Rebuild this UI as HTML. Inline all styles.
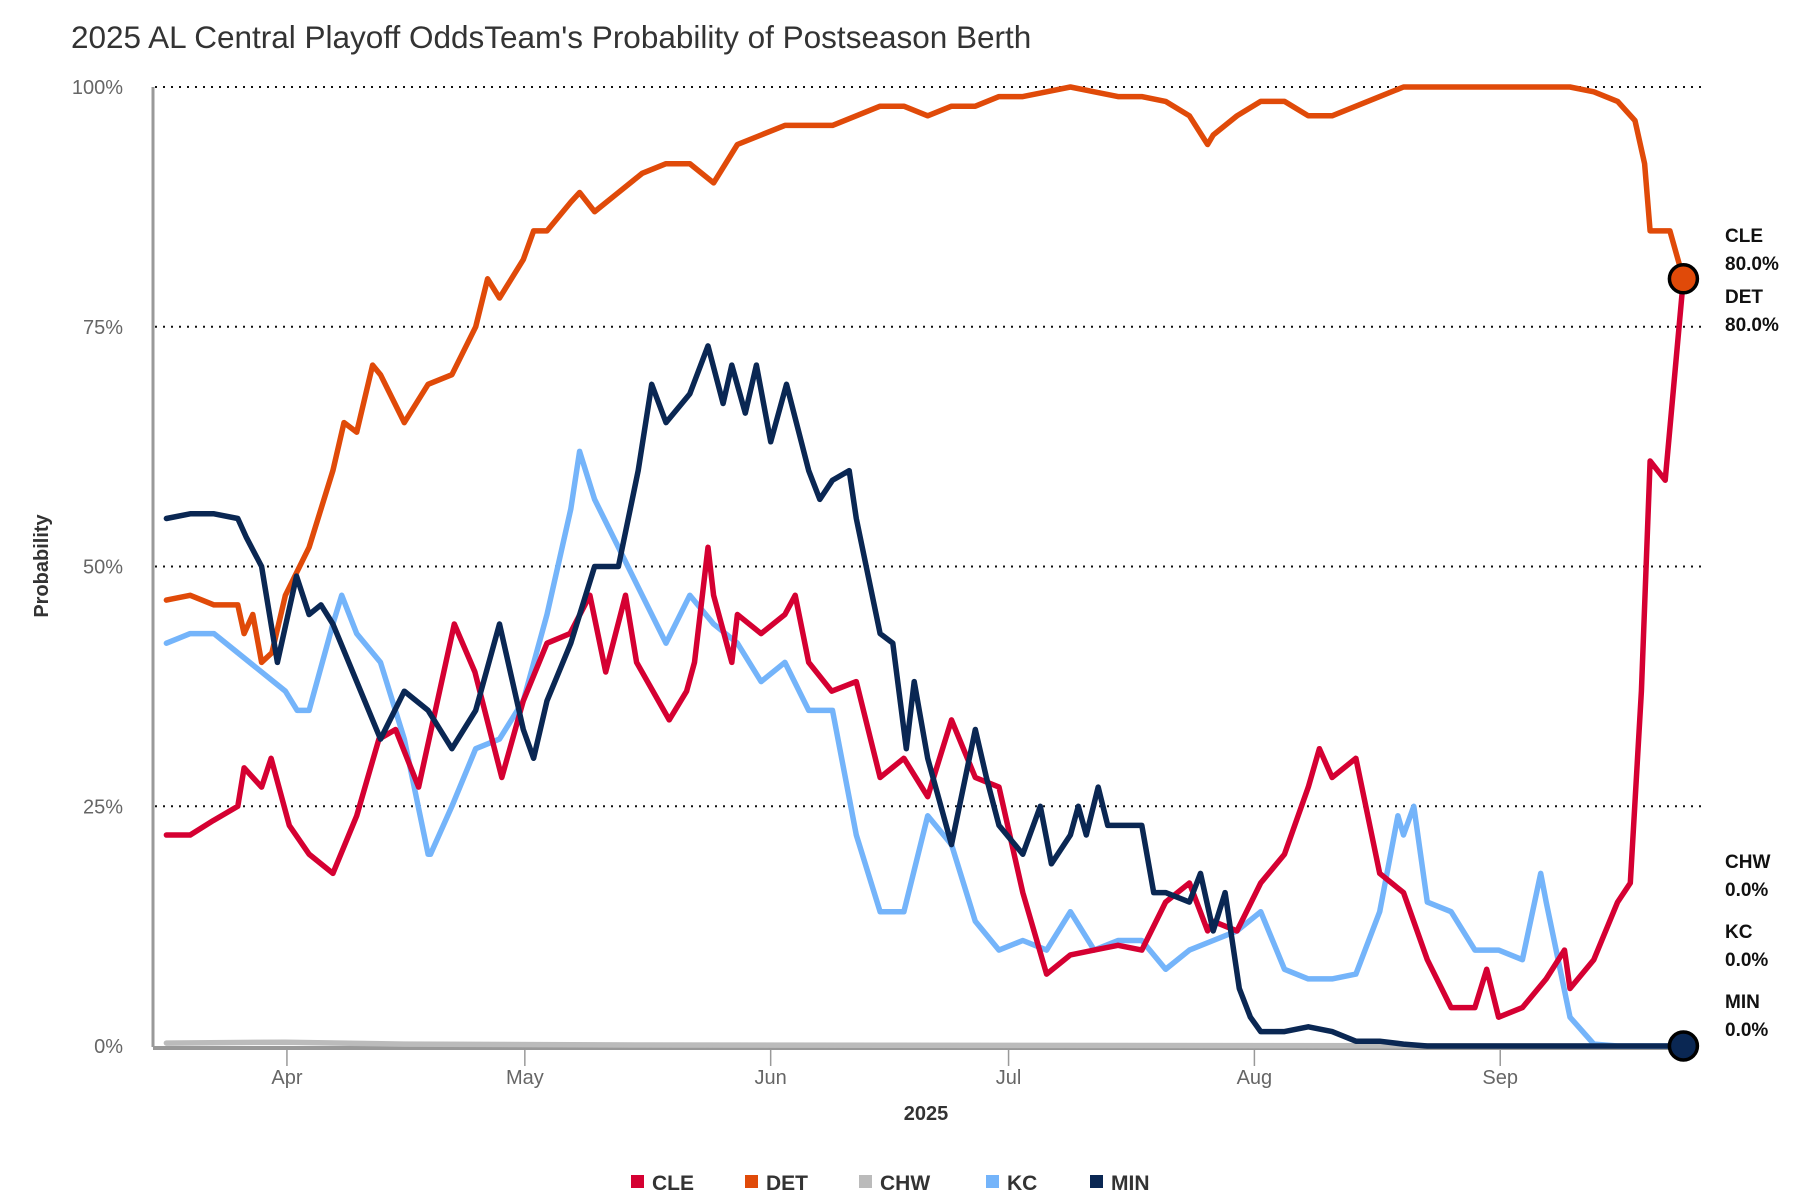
<!DOCTYPE html>
<html><head><meta charset="utf-8"><style>
html,body{margin:0;padding:0;background:#fff;}
svg{display:block;font-family:"Liberation Sans",sans-serif;}
</style></head><body>
<svg id="chart" width="1800" height="1200" viewBox="0 0 1800 1200">
<text x="71" y="48" font-size="31.5" fill="#333">2025 AL Central Playoff OddsTeam's Probability of Postseason Berth</text>
<g id="grid"></g>
<g id="yticks"></g>
<g id="xticks"></g>
<line x1="153" y1="87" x2="153" y2="1047" stroke="#999" stroke-width="3"/>
<text transform="translate(48,566) rotate(-90)" text-anchor="middle" font-size="20" font-weight="bold" fill="#333">Probability</text>
<text x="926" y="1120" text-anchor="middle" font-size="20" font-weight="bold" fill="#333">2025</text>
<g id="series"></g>
<g id="labels"></g>
<g id="legend"></g>
</svg>
<script>
const yTickValues=[0,25,50,75,100];
const yTickLabels=["0%","25%","50%","75%","100%"];
const monthLabels=["Apr","May","Jun","Jul","Aug","Sep"];
const monthDays=[15.2,45.2,76.2,106.2,137.2,168.2];
const teams=["CLE","DET","CHW","KC","MIN"];
const teamColors=["#d50032","#e04a09","#bbbbbb","#74b4fa","#0a2753"];

const detDays=[0,3,6,9,9.8,10.9,12,13.3,15,18,21,22.4,24,26,27,30,33,36,39,40.5,42,45,46.3,48,51,52.1,54,57,60,63,66,69,72,75,78,81,84,87,90,93,96,99,102,105,108,111,114,117,120,123,126,129,131.3,132,135,138,141,144,147,150,153,156,160,165,170,177,180,183,185.2,186.4,187.1,189.6,191.3];
const detVals=[46.5,47,46,46,43,45,40,41,47,52,60,65,64,71,70,65,69,70,75,80,78,82,85,85,88,89,87,89,91,92,92,90,94,95,96,96,96,97,98,98,97,98,98,99,99,99.5,100,99.5,99,99,98.5,97,94,95,97,98.5,98.5,97,97,98,99,100,100,100,100,100,99.5,98.5,96.5,92,85,85,80];

const cleDays=[0,3,5.9,9,9.8,12,13.2,15.5,18,21,24,26.8,28.9,31.8,36.3,38.9,42.3,45,48,50.9,53.4,55.4,57.9,59.3,63.4,65.6,66.6,68.3,69,71.3,72,75,78,79.3,81,83.9,87,90,93,96,99,102,105,108,111,114,117,120,123,126,129,131.3,132,135,138,141,144,145.4,147,150,153,156,159,162,165,166.5,168,171,174,176.3,177,180,183,184.6,186,187.1,189,191.3];
const cleVals=[22,22,23.5,25,29,27,30,23,20,18,24,32,33,27,44,39,28,36,42,43,47,39,47,40,34,37,40,52,47,40,45,43,45,47,40,37,38,28,30,26,34,28,27,16,7.5,9.5,10,10.5,10,15,17,12,13,12,17,20,27,31,28,30,18,16,9,4,4,8,3,4,7,10,6,9,15,17,37,61,59,80];

const kcDays=[0,3,6,9,12,15,16.5,18,21,22.1,24,27,30,33,33.3,36,39,42,45,48,51,52.1,54,57,60,63,66,69,72,75,78,81,84,87,90,93,96,99,102,105,108,111,114,117,120,123,126,129,132,135,138,141,144,147,150,153,155.3,156,157.3,159,162,165,168,171,173.3,174,177,180,183,191.3];
const kcVals=[42,43,43,41,39,37,35,35,44,47,43,40,32,20,20,25,31,32,36,45,56,62,57,52,47,42,47,44,42,38,40,35,35,22,14,14,24,21,13,10,11,10,14,10,11,11,8,10,11,12,14,8,7,7,7.5,14,24,22,25,15,14,10,10,9,18,15,3,0.2,0,0];

const minDays=[0,3,6,9,10.1,12,14,16.4,18,19.5,21,24,27,30,33,36,39,42,45,46.3,48,51,54,57,59.5,61.2,63,66,68.3,70.2,71.3,73,74.4,76.2,78.2,81,82.4,84,86.1,87,90,91.6,93.3,94.3,96,99,102,103.4,105,108,110.2,111.6,114,115,116,117.5,118.7,123,124.5,126,129,130.4,132,133.5,135.3,136.7,138,141,144,147,150,153,156,159,191.3];
const minVals=[55,55.5,55.5,55,53,50,40,49,45,46,44,38,32,37,35,31,35,44,33,30,36,42,50,50,60,69,65,68,73,67,71,66,71,63,69,60,57,59,60,55,43,42,31,38,30,21,33,28,23,20,25,19,22,25,22,27,23,23,16,16,15,18,12,16,6,3,1.5,1.5,2,1.5,0.5,0.5,0.2,0,0];

const chwDays=[0,15,30,60,191.3];
const chwVals=[0.3,0.4,0.2,0.1,0];

const seriesDays=[cleDays,detDays,chwDays,kcDays,minDays];
const seriesVals=[cleVals,detVals,chwVals,kcVals,minVals];
const drawOrder=[2,3,0,1,4];

const NS="http://www.w3.org/2000/svg";
const X0=166.4, XS=7.93, Y0=1046, YS=9.59;
function xScale(d){return X0+d*XS;}
function yScale(p){return Y0-p*YS;}
function mk(tag,attrs,parent){const e=document.createElementNS(NS,tag);for(const k in attrs)e.setAttribute(k,attrs[k]);parent.appendChild(e);return e;}

const grid=document.getElementById('grid'), yt=document.getElementById('yticks'), xt=document.getElementById('xticks');
yTickValues.forEach((v,i)=>{
  if(v>0){const l=mk('line',{x1:155,x2:1702,y1:yScale(v),y2:yScale(v),stroke:'#111','stroke-width':2,'stroke-dasharray':'2,6'},grid);
  
  }
  const t=mk('text',{x:123,y:yScale(v)+7,'text-anchor':'end','font-size':20,fill:'#666'},yt);
  t.textContent=yTickLabels[i];
  
  
});
const base=mk('line',{x1:153,x2:1684,y1:1048,y2:1048,stroke:'#999','stroke-width':4},xt);


monthLabels.forEach((m,i)=>{
  const x=xScale(monthDays[i]);
  const l=mk('line',{x1:x,x2:x,y1:1048,y2:1066,stroke:'#999','stroke-width':1.5},xt);
  
  
  const t=mk('text',{x:x,y:1084,'text-anchor':'middle','font-size':20,fill:'#666'},xt);
  t.textContent=m;
  
  
});

const sg=document.getElementById('series');
drawOrder.forEach(i=>{
  const d=seriesDays[i].map((dd,k)=>(k?'L':'M')+xScale(dd).toFixed(1)+','+yScale(seriesVals[i][k]).toFixed(1)).join('');
  const p=mk('path',{d:d,fill:'none',stroke:teamColors[i],'stroke-width':5.5,'stroke-linejoin':'round','stroke-linecap':'round'},sg);
  
  
});
[1,4].forEach(i=>{
  const dd=seriesDays[i], vv=seriesVals[i];
  const c=mk('circle',{cx:xScale(dd[dd.length-1]),cy:yScale(vv[vv.length-1]),r:14,fill:teamColors[i],stroke:'#000','stroke-width':3.5},sg);
  
  
});

const lg=document.getElementById('labels');
const endLabelTeams=["CLE","DET","CHW","KC","MIN"];
const endLabelY=[242,303,868,938,1008];
endLabelTeams.forEach((tm,i)=>{
  const idx=teams.indexOf(tm); const vv=seriesVals[idx];
  const t1=mk('text',{x:1725,y:endLabelY[i],'font-size':19,'font-weight':'bold',fill:'#111'},lg);
  t1.textContent=tm;
  
  
  const t2=mk('text',{x:1725,y:endLabelY[i]+28,'font-size':19,'font-weight':'bold',fill:'#111'},lg);
  t2.textContent=vv[vv.length-1].toFixed(1)+'%';
  
  
});

const leg=document.getElementById('legend');
const legX=[631,745,859,986,1090];
teams.forEach((tm,i)=>{
  const r=mk('rect',{x:legX[i],y:1175,width:13,height:13,fill:teamColors[i]},leg);
  
  
  const t=mk('text',{x:legX[i]+21,y:1190,'font-size':21,'font-weight':'bold',fill:'#333'},leg);
  t.textContent=tm;
  
  
});
</script>
</body></html>
